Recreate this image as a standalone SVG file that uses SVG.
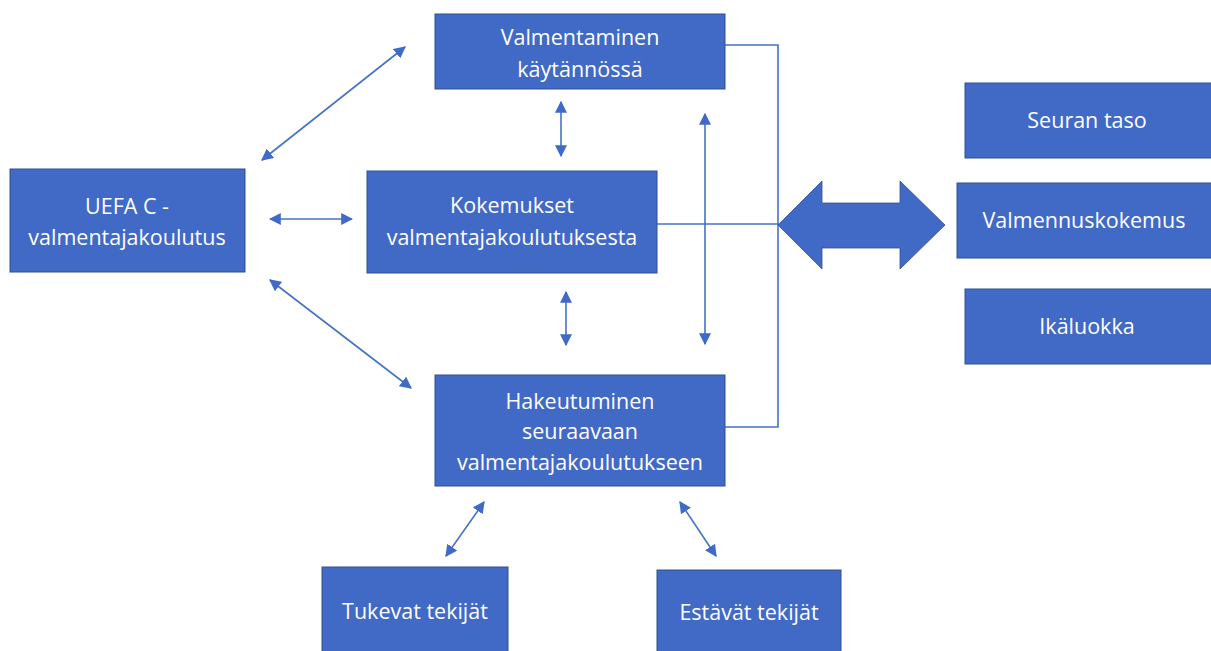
<svg xmlns="http://www.w3.org/2000/svg" width="1211" height="651" viewBox="0 0 1211 651">
<defs>
<style>
.box{fill:#4169C6;stroke:#2F528F;stroke-width:1}
.t{fill:#fff;font-family:"Open Sans","Liberation Sans",sans-serif;font-size:21.5px;text-anchor:middle}
.c{stroke:#4472C4;stroke-width:1.6;fill:none}
.a{stroke:#4472C4;stroke-width:1.6;fill:none;marker-start:url(#ah);marker-end:url(#ah)}
</style>
<marker id="ah" viewBox="0 0 10 10" refX="9" refY="5" markerWidth="7.5" markerHeight="7.5" orient="auto-start-reverse" markerUnits="strokeWidth">
<path d="M0,0 L10,5 L0,10 z" fill="#4169C6"/>
</marker>
</defs>
<rect width="1211" height="651" fill="#fff"/>
<g id="connectors">
<polyline class="c" points="725,45 778,45 778,427 725,427"/>
<line class="c" x1="657" y1="224" x2="778" y2="224"/>
<line class="a" x1="262" y1="160" x2="405" y2="47"/>
<line class="a" x1="270" y1="219" x2="352" y2="219"/>
<line class="a" x1="270" y1="280" x2="411" y2="388"/>
<line class="a" x1="561" y1="102" x2="561" y2="156"/>
<line class="a" x1="566" y1="292" x2="566" y2="345"/>
<line class="a" x1="705" y1="114" x2="705" y2="344"/>
<line class="a" x1="484" y1="502" x2="446" y2="556"/>
<line class="a" x1="680" y1="502" x2="716" y2="556"/>
<polygon fill="#4169C6" stroke="#2F528F" stroke-width="0.8" points="778,225 822,181 822,203 900,203 900,181 945,225 900,269 900,248 822,248 822,269"/>
</g>
<g id="n-valmentaminen"><rect class="box" x="435" y="14" width="290" height="75"/><text class="t" x="580" y="45">Valmentaminen</text><text class="t" x="580" y="77">käytännössä</text></g>
<g id="n-uefa"><rect class="box" x="10" y="169" width="235" height="103"/><text class="t" x="127" y="214">UEFA C -</text><text class="t" x="127" y="245">valmentajakoulutus</text></g>
<g id="n-kokemukset"><rect class="box" x="367" y="171" width="290" height="102"/><text class="t" x="512" y="213">Kokemukset</text><text class="t" x="512" y="245">valmentajakoulutuksesta</text></g>
<g id="n-hakeutuminen"><rect class="box" x="435" y="375" width="290" height="111"/><text class="t" x="580" y="409">Hakeutuminen</text><text class="t" x="580" y="439">seuraavaan</text><text class="t" x="580" y="470">valmentajakoulutukseen</text></g>
<g id="n-tukevat"><rect class="box" x="322" y="567" width="186" height="90"/><text class="t" x="415" y="619">Tukevat tekijät</text></g>
<g id="n-estavat"><rect class="box" x="657" y="570" width="184" height="90"/><text class="t" x="749" y="620">Estävät tekijät</text></g>
<g id="n-seuran"><rect class="box" x="965" y="83" width="250" height="75"/><text class="t" x="1087" y="128">Seuran taso</text></g>
<g id="n-valmennus"><rect class="box" x="957" y="183" width="258" height="75"/><text class="t" x="1084" y="228">Valmennuskokemus</text></g>
<g id="n-ikaluokka"><rect class="box" x="965" y="289" width="250" height="75"/><text class="t" x="1087" y="334">Ikäluokka</text></g>
</svg>
